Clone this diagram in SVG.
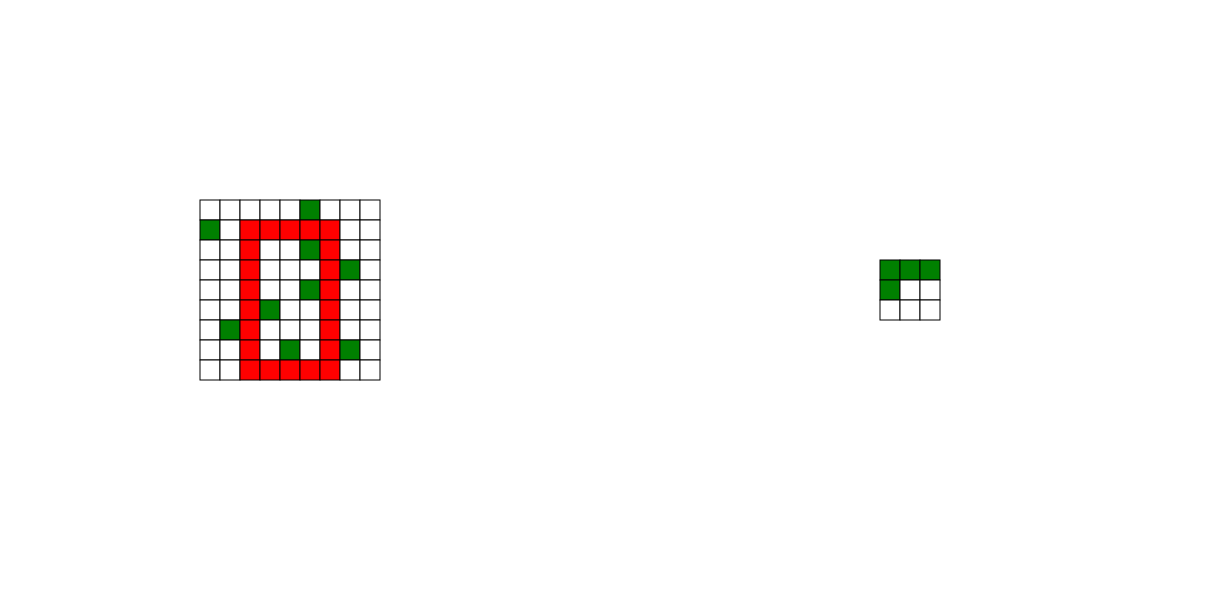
<svg xmlns="http://www.w3.org/2000/svg" width="1220" height="600" viewBox="0 0 1220 600">
<style>
.c{stroke:#000;stroke-width:1}
.w{fill:#fff}.r{fill:#ff0000}.g{fill:#008000}
</style>
<g id="grid-main">
<rect class="c w" x="200" y="200" width="20" height="20"/><rect class="c w" x="220" y="200" width="20" height="20"/><rect class="c w" x="240" y="200" width="20" height="20"/><rect class="c w" x="260" y="200" width="20" height="20"/><rect class="c w" x="280" y="200" width="20" height="20"/><rect class="c g" x="300" y="200" width="20" height="20"/><rect class="c w" x="320" y="200" width="20" height="20"/><rect class="c w" x="340" y="200" width="20" height="20"/><rect class="c w" x="360" y="200" width="20" height="20"/>
<rect class="c g" x="200" y="220" width="20" height="20"/><rect class="c w" x="220" y="220" width="20" height="20"/><rect class="c r" x="240" y="220" width="20" height="20"/><rect class="c r" x="260" y="220" width="20" height="20"/><rect class="c r" x="280" y="220" width="20" height="20"/><rect class="c r" x="300" y="220" width="20" height="20"/><rect class="c r" x="320" y="220" width="20" height="20"/><rect class="c w" x="340" y="220" width="20" height="20"/><rect class="c w" x="360" y="220" width="20" height="20"/>
<rect class="c w" x="200" y="240" width="20" height="20"/><rect class="c w" x="220" y="240" width="20" height="20"/><rect class="c r" x="240" y="240" width="20" height="20"/><rect class="c w" x="260" y="240" width="20" height="20"/><rect class="c w" x="280" y="240" width="20" height="20"/><rect class="c g" x="300" y="240" width="20" height="20"/><rect class="c r" x="320" y="240" width="20" height="20"/><rect class="c w" x="340" y="240" width="20" height="20"/><rect class="c w" x="360" y="240" width="20" height="20"/>
<rect class="c w" x="200" y="260" width="20" height="20"/><rect class="c w" x="220" y="260" width="20" height="20"/><rect class="c r" x="240" y="260" width="20" height="20"/><rect class="c w" x="260" y="260" width="20" height="20"/><rect class="c w" x="280" y="260" width="20" height="20"/><rect class="c w" x="300" y="260" width="20" height="20"/><rect class="c r" x="320" y="260" width="20" height="20"/><rect class="c g" x="340" y="260" width="20" height="20"/><rect class="c w" x="360" y="260" width="20" height="20"/>
<rect class="c w" x="200" y="280" width="20" height="20"/><rect class="c w" x="220" y="280" width="20" height="20"/><rect class="c r" x="240" y="280" width="20" height="20"/><rect class="c w" x="260" y="280" width="20" height="20"/><rect class="c w" x="280" y="280" width="20" height="20"/><rect class="c g" x="300" y="280" width="20" height="20"/><rect class="c r" x="320" y="280" width="20" height="20"/><rect class="c w" x="340" y="280" width="20" height="20"/><rect class="c w" x="360" y="280" width="20" height="20"/>
<rect class="c w" x="200" y="300" width="20" height="20"/><rect class="c w" x="220" y="300" width="20" height="20"/><rect class="c r" x="240" y="300" width="20" height="20"/><rect class="c g" x="260" y="300" width="20" height="20"/><rect class="c w" x="280" y="300" width="20" height="20"/><rect class="c w" x="300" y="300" width="20" height="20"/><rect class="c r" x="320" y="300" width="20" height="20"/><rect class="c w" x="340" y="300" width="20" height="20"/><rect class="c w" x="360" y="300" width="20" height="20"/>
<rect class="c w" x="200" y="320" width="20" height="20"/><rect class="c g" x="220" y="320" width="20" height="20"/><rect class="c r" x="240" y="320" width="20" height="20"/><rect class="c w" x="260" y="320" width="20" height="20"/><rect class="c w" x="280" y="320" width="20" height="20"/><rect class="c w" x="300" y="320" width="20" height="20"/><rect class="c r" x="320" y="320" width="20" height="20"/><rect class="c w" x="340" y="320" width="20" height="20"/><rect class="c w" x="360" y="320" width="20" height="20"/>
<rect class="c w" x="200" y="340" width="20" height="20"/><rect class="c w" x="220" y="340" width="20" height="20"/><rect class="c r" x="240" y="340" width="20" height="20"/><rect class="c w" x="260" y="340" width="20" height="20"/><rect class="c g" x="280" y="340" width="20" height="20"/><rect class="c w" x="300" y="340" width="20" height="20"/><rect class="c r" x="320" y="340" width="20" height="20"/><rect class="c g" x="340" y="340" width="20" height="20"/><rect class="c w" x="360" y="340" width="20" height="20"/>
<rect class="c w" x="200" y="360" width="20" height="20"/><rect class="c w" x="220" y="360" width="20" height="20"/><rect class="c r" x="240" y="360" width="20" height="20"/><rect class="c r" x="260" y="360" width="20" height="20"/><rect class="c r" x="280" y="360" width="20" height="20"/><rect class="c r" x="300" y="360" width="20" height="20"/><rect class="c r" x="320" y="360" width="20" height="20"/><rect class="c w" x="340" y="360" width="20" height="20"/><rect class="c w" x="360" y="360" width="20" height="20"/>
</g>
<g id="grid-small">
<rect class="c g" x="880" y="260" width="20" height="20"/><rect class="c g" x="900" y="260" width="20" height="20"/><rect class="c g" x="920" y="260" width="20" height="20"/>
<rect class="c g" x="880" y="280" width="20" height="20"/><rect class="c w" x="900" y="280" width="20" height="20"/><rect class="c w" x="920" y="280" width="20" height="20"/>
<rect class="c w" x="880" y="300" width="20" height="20"/><rect class="c w" x="900" y="300" width="20" height="20"/><rect class="c w" x="920" y="300" width="20" height="20"/>
</g>
<g id="connectors"></g>
</svg>
